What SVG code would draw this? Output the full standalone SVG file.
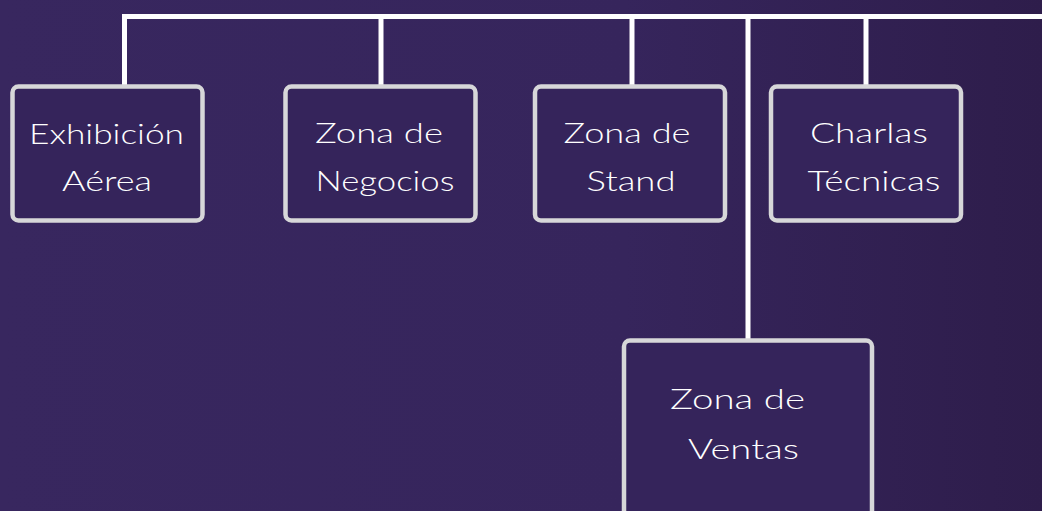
<svg xmlns="http://www.w3.org/2000/svg" width="1042" height="511" viewBox="0 0 1042 511">
  <defs>
    <linearGradient id="bg" x1="0" y1="0" x2="1" y2="0">
      <stop offset="0" stop-color="#38275f"/>
      <stop offset="0.6" stop-color="#36255c"/>
      <stop offset="1" stop-color="#2e1d4b"/>
    </linearGradient>
  </defs>
  <style>
    .box { fill: #35245b; stroke: #d7d7d9; stroke-width: 4.5; }
    .lbl { fill: #ffffff; font-family: "Lato", "Open Sans", sans-serif; font-weight: 300; font-size: 27px; text-anchor: middle; }
    .conn { stroke: #ffffff; stroke-width: 5; fill: none; }
  </style>
  <rect x="0" y="0" width="1042" height="511" fill="url(#bg)"/>
  <g id="connectors">
    <path class="conn" d="M124.5 87 V16.5 H1042"/>
    <line class="conn" x1="381" y1="16.5" x2="381" y2="87"/>
    <line class="conn" x1="632" y1="16.5" x2="632" y2="87"/>
    <line class="conn" x1="748" y1="16.5" x2="748" y2="340"/>
    <line class="conn" x1="866" y1="16.5" x2="866" y2="87"/>
  </g>
  <g id="node-exhibicion">
    <rect class="box" x="12.5" y="86.5" width="190" height="134" rx="6"/>
    <text class="lbl" x="106.5" y="144" textLength="155" lengthAdjust="spacingAndGlyphs">Exhibición</text>
    <text class="lbl" x="107" y="191" textLength="90" lengthAdjust="spacingAndGlyphs">Aérea</text>
  </g>
  <g id="node-negocios">
    <rect class="box" x="285.5" y="86.5" width="190" height="134" rx="6"/>
    <text class="lbl" x="379" y="143" textLength="128" lengthAdjust="spacingAndGlyphs">Zona de</text>
    <text class="lbl" x="385" y="191" textLength="139" lengthAdjust="spacingAndGlyphs">Negocios</text>
  </g>
  <g id="node-stand">
    <rect class="box" x="535" y="86.5" width="190" height="134" rx="6"/>
    <text class="lbl" x="627" y="143" textLength="127" lengthAdjust="spacingAndGlyphs">Zona de</text>
    <text class="lbl" x="631" y="191" textLength="89" lengthAdjust="spacingAndGlyphs">Stand</text>
  </g>
  <g id="node-charlas">
    <rect class="box" x="771" y="86.5" width="190" height="134" rx="6"/>
    <text class="lbl" x="869" y="143" textLength="118" lengthAdjust="spacingAndGlyphs">Charlas</text>
    <text class="lbl" x="874" y="191" textLength="133" lengthAdjust="spacingAndGlyphs">Técnicas</text>
  </g>
  <g id="node-ventas">
    <rect class="box" x="624" y="340.5" width="248" height="190" rx="6"/>
    <text class="lbl" x="737.5" y="409" font-size="28" textLength="135" lengthAdjust="spacingAndGlyphs">Zona de</text>
    <text class="lbl" x="743.5" y="459" font-size="28" textLength="111" lengthAdjust="spacingAndGlyphs">Ventas</text>
  </g>
</svg>
